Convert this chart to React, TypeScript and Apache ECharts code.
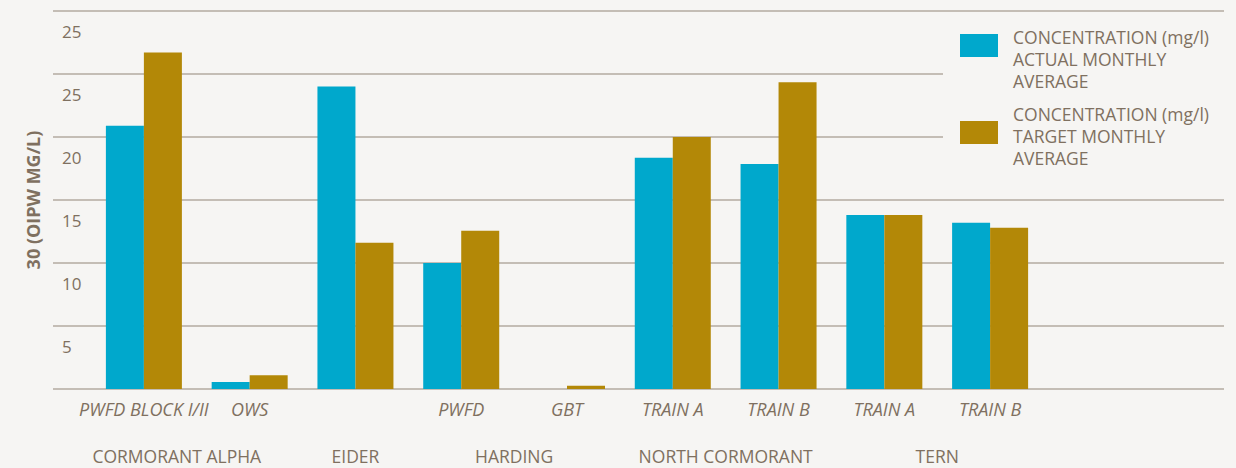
import React, { useEffect, useRef } from "react";
import * as echarts from "echarts";

const categories = [
  "PWFD BLOCK I/II",
  "OWS",
  "",
  "PWFD",
  "GBT",
  "TRAIN A",
  "TRAIN B",
  "TRAIN A",
  "TRAIN B",
];
const actualValues = [20.9, 0.55, 24.0, 10.0, 0, 18.35, 17.85, 13.8, 13.2];
const targetValues = [26.7, 1.1, 11.6, 12.55, 0.25, 20.0, 24.35, 13.8, 12.8];
const groupNames = ["CORMORANT ALPHA", "EIDER", "HARDING", "NORTH CORMORANT", "TERN"];
const groupSpans = [2, 1, 2, 2, 2];
const yTickValues = [0, 5, 10, 15, 20, 25, 30];
const yTickLabels = ["", "5", "10", "15", "20", "25", "25"];
const seriesNames = [
  "CONCENTRATION (mg/l)\nACTUAL MONTHLY\nAVERAGE",
  "CONCENTRATION (mg/l)\nTARGET MONTHLY\nAVERAGE",
];
const yAxisTitle = "30 (OIPW MG/L)";

const BG = "#f6f5f3";
const GRID = "#b3aaa1";
const TEXT = "#7f7060";
const CYAN = "#00a8cc";
const GOLD = "#b38807";
const FONT = "'Open Sans', 'Noto Sans', sans-serif";

// legend swatches (38x23) placed inside a 38x50 frame so they sit near the top of the text block
const ICON_1 = "path://M0,0 L38,0 L38,23 L0,23 Z M0,50";
const ICON_2 = "path://M0,0 M0,10 L38,10 L38,33 L0,33 Z M0,50";

export default function App() {
  const ref = useRef<HTMLDivElement>(null);
  useEffect(() => {
    document.body.style.margin = "0";
    document.body.style.background = BG;
    const chart = echarts.init(ref.current!, undefined, { renderer: "svg" });

    const groupAxis: string[] = new Array(categories.length * 2 + 1).fill("");
    let start = 0;
    groupNames.forEach((g, i) => {
      const k = start * 2 + groupSpans[i];
      groupAxis[k] = i === 0 ? "{s|" + g + "}" : g;
      start += groupSpans[i];
    });

    chart.setOption({
      animation: false,
      backgroundColor: BG,
      textStyle: { fontFamily: FONT },
      grid: [
        { left: 53, right: 12, top: 11, bottom: 79 },
        { left: 91, width: 952, top: 11, bottom: 79 },
      ],
      legend: {
        left: 943,
        top: 16,
        orient: "vertical",
        backgroundColor: BG,
        padding: [10, 30, 10, 17],
        itemWidth: 38,
        itemHeight: 50,
        itemGap: 11,
        selectedMode: false,
        textStyle: {
          color: TEXT,
          fontSize: 17.5,
          lineHeight: 22,
          fontFamily: FONT,
          padding: [0, 0, 0, 10],
        },
        data: [
          { name: seriesNames[0], icon: ICON_1 },
          { name: seriesNames[1], icon: ICON_2 },
        ],
      },
      xAxis: [
        {
          gridIndex: 0,
          type: "value",
          show: false,
        },
        {
          gridIndex: 1,
          type: "category",
          data: categories,
          axisLine: { show: false },
          axisTick: { show: false },
          axisLabel: {
            interval: 0,
            margin: 11,
            color: TEXT,
            fontSize: 18,
            fontStyle: "italic",
            fontFamily: FONT,
          },
        },
        {
          gridIndex: 1,
          type: "category",
          data: groupAxis,
          boundaryGap: false,
          position: "bottom",
          axisLine: { show: false },
          axisTick: { show: false },
          splitLine: { show: false },
          axisLabel: {
            interval: 0,
            margin: 58,
            color: TEXT,
            fontSize: 17.5,
            fontFamily: FONT,
            showMinLabel: true,
            showMaxLabel: true,
            rich: {
              s: { color: TEXT, fontSize: 17.5, fontFamily: FONT, padding: [0, 40, 0, 0] },
            },
          },
        },
      ],
      yAxis: [
        {
          gridIndex: 0,
          type: "value",
          min: 0,
          max: 30,
          interval: 5,
          name: yAxisTitle,
          nameLocation: "middle",
          nameGap: 11,
          nameTextStyle: {
            color: TEXT,
            fontSize: 18,
            fontWeight: "bold",
            fontFamily: FONT,
          },
          axisLine: { show: false },
          axisTick: { show: false },
          splitLine: { lineStyle: { color: GRID, width: 1.5 } },
          axisLabel: {
            inside: true,
            margin: 9,
            verticalAlign: "top",
            padding: [12, 0, 0, 0],
            color: TEXT,
            fontSize: 17,
            fontFamily: FONT,
            formatter: (v: number) => {
              const i = yTickValues.indexOf(v);
              return i >= 0 ? yTickLabels[i] : "";
            },
          },
        },
        {
          gridIndex: 1,
          type: "value",
          min: 0,
          max: 30,
          interval: 5,
          show: false,
          splitLine: { show: false },
        },
      ],
      series: [
        {
          name: seriesNames[0],
          type: "bar",
          xAxisIndex: 1,
          yAxisIndex: 1,
          data: actualValues,
          barWidth: 38,
          barGap: "0%",
          itemStyle: { color: CYAN },
        },
        {
          name: seriesNames[1],
          type: "bar",
          xAxisIndex: 1,
          yAxisIndex: 1,
          data: targetValues,
          barWidth: 38,
          barGap: "0%",
          itemStyle: { color: GOLD },
        },
      ],
    });
    return () => chart.dispose();
  }, []);
  return <div ref={ref} style={{ width: 1236, height: 468, background: BG }} />;
}
